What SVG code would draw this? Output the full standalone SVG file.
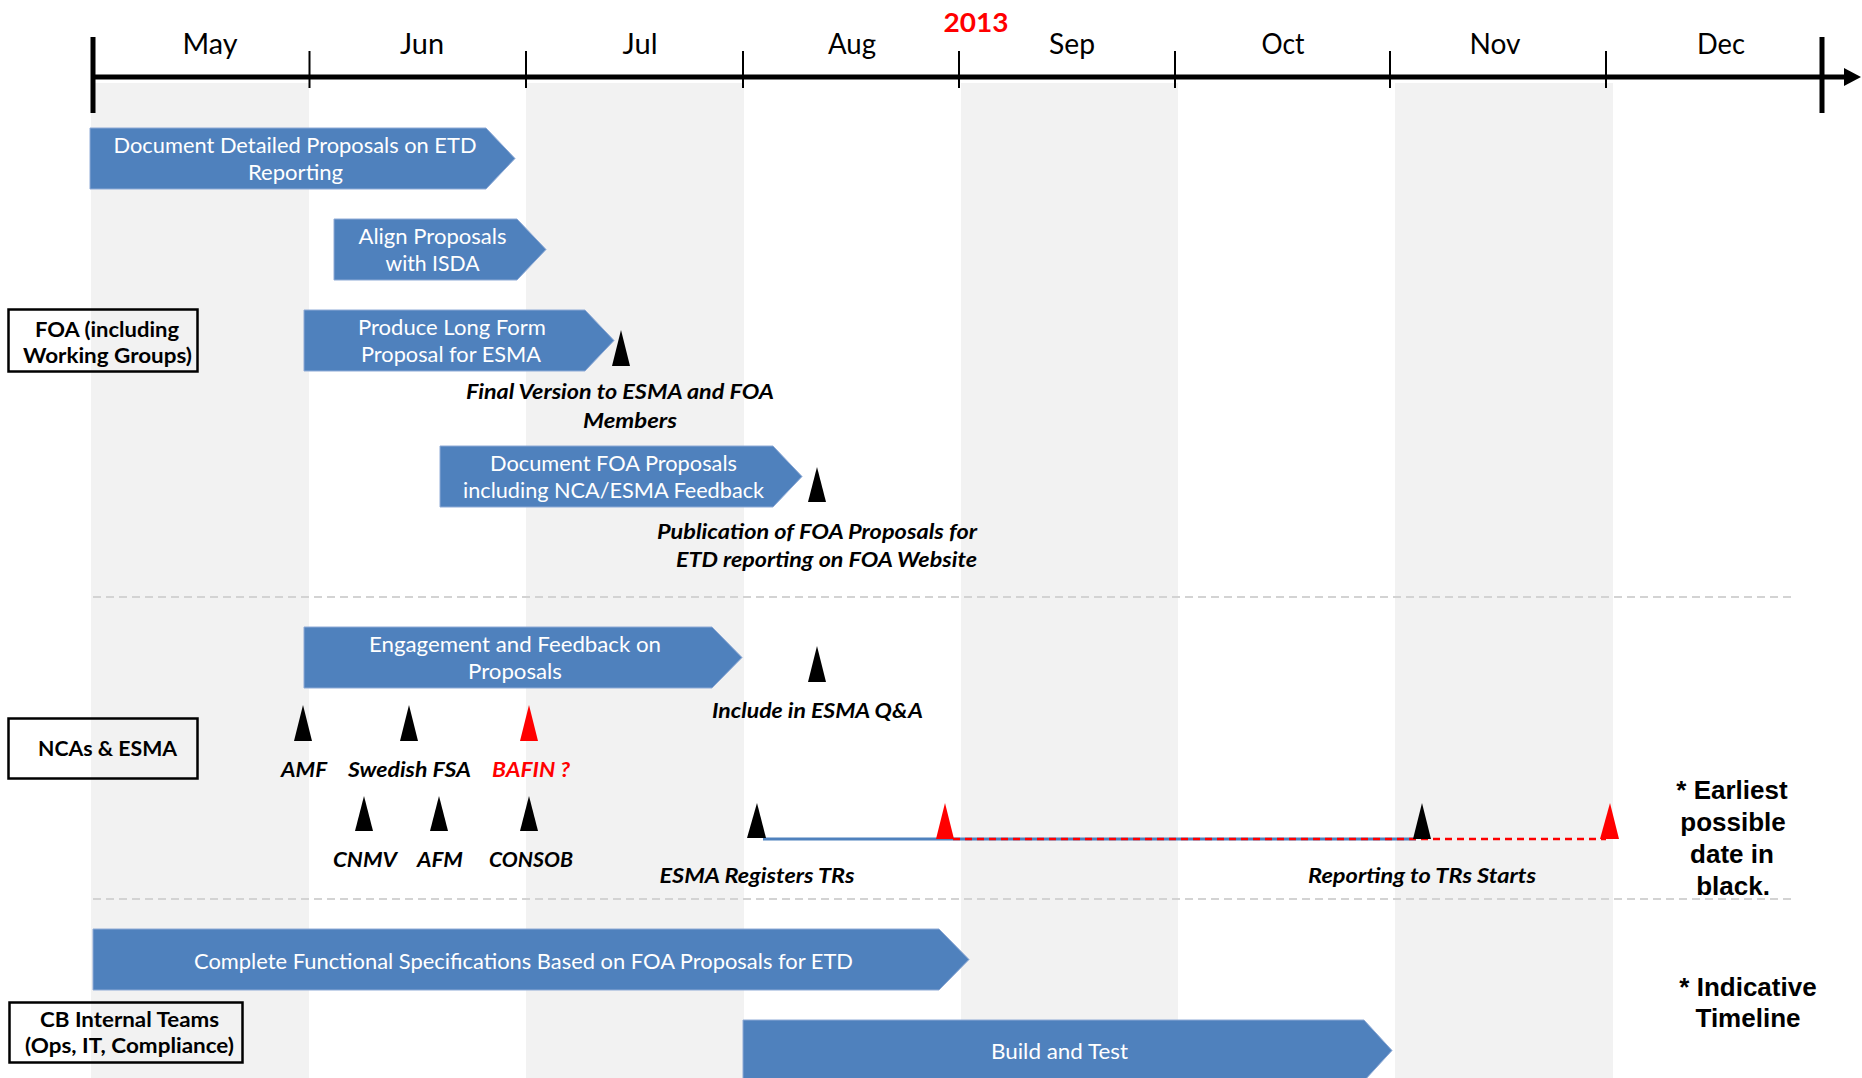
<svg xmlns="http://www.w3.org/2000/svg" width="1862" height="1078" viewBox="0 0 1862 1078">
<style>
.shade{fill:#f2f2f2}
.sep{stroke:#d3d3d3;stroke-width:2;stroke-dasharray:8 5;fill:none}
.axis{stroke:#000;fill:none}
.month{font-family:Lato,"Liberation Sans",sans-serif;font-size:28px;fill:#000;text-anchor:middle}
.bar{fill:#4f81bd;stroke:#8eaad6;stroke-width:1}
.bt{font-family:Lato,"Liberation Sans",sans-serif;font-size:21px;fill:#fff;text-anchor:middle}
.ms{fill:#000}
.msr{fill:#ff0000}
.lbl{font-family:Lato,"Liberation Sans",sans-serif;font-size:21px;font-weight:bold;font-style:italic;fill:#000;text-anchor:middle}
.red{fill:#ff0000}
.lane{fill:none;stroke:#000;stroke-width:2.5}
.lt{font-family:Lato,"Liberation Sans",sans-serif;font-size:21px;font-weight:bold;fill:#000;text-anchor:middle}
.note{font-family:"Liberation Sans",Arial,sans-serif;font-size:26px;font-weight:bold;fill:#000;text-anchor:middle}
</style>

<g id="background">
<rect class="shade" x="91" y="83" width="218" height="995"/>
<rect class="shade" x="526" y="83" width="218" height="995"/>
<rect class="shade" x="961" y="83" width="217" height="995"/>
<rect class="shade" x="1395" y="83" width="218" height="995"/>
<line class="sep" x1="93" y1="597" x2="1795" y2="597"/>
<line class="sep" x1="93" y1="899" x2="1795" y2="899"/>
</g>

<g id="timeline">
<line class="axis" x1="93" y1="77" x2="1846" y2="77" stroke-width="5"/>
<polygon points="1844,68 1861,77 1844,86" fill="#000"/>
<line class="axis" x1="93" y1="37" x2="93" y2="113" stroke-width="5"/>
<line class="axis" x1="1822" y1="37" x2="1822" y2="113" stroke-width="5"/>
<g stroke="#000" stroke-width="2">
<line x1="309.5" y1="51" x2="309.5" y2="88"/>
<line x1="526" y1="51" x2="526" y2="88"/>
<line x1="743" y1="51" x2="743" y2="88"/>
<line x1="959" y1="51" x2="959" y2="88"/>
<line x1="1175" y1="51" x2="1175" y2="88"/>
<line x1="1390" y1="51" x2="1390" y2="88"/>
<line x1="1606" y1="51" x2="1606" y2="88"/>
</g>
<text class="month" x="210" y="54" textLength="55" lengthAdjust="spacingAndGlyphs">May</text>
<text class="month" x="422" y="54" textLength="44" lengthAdjust="spacingAndGlyphs">Jun</text>
<text class="month" x="640" y="54" textLength="35" lengthAdjust="spacingAndGlyphs">Jul</text>
<text class="month" x="852" y="54" textLength="48" lengthAdjust="spacingAndGlyphs">Aug</text>
<text class="month" x="1072" y="54" textLength="46" lengthAdjust="spacingAndGlyphs">Sep</text>
<text class="month" x="1283" y="54" textLength="43" lengthAdjust="spacingAndGlyphs">Oct</text>
<text class="month" x="1495" y="54" textLength="51" lengthAdjust="spacingAndGlyphs">Nov</text>
<text class="month" x="1721" y="54" textLength="48" lengthAdjust="spacingAndGlyphs">Dec</text>
<text x="976" y="32" font-family="Lato,'Liberation Sans',sans-serif" font-size="27" font-weight="bold" fill="#ff0000" text-anchor="middle" textLength="65" lengthAdjust="spacingAndGlyphs">2013</text>
</g>

<g id="lane-foa">
<rect class="lane" x="8.5" y="309.5" width="189" height="62"/>
<text class="lt" x="107" y="337" textLength="144" lengthAdjust="spacingAndGlyphs">FOA (including</text>
<text class="lt" x="107.5" y="363" textLength="169" lengthAdjust="spacingAndGlyphs">Working Groups)</text>
</g>
<g id="lane-nca">
<rect class="lane" x="8.5" y="718.5" width="189" height="60"/>
<text class="lt" x="107.5" y="756" textLength="139" lengthAdjust="spacingAndGlyphs">NCAs &amp; ESMA</text>
</g>
<g id="lane-cb">
<rect class="lane" x="9.5" y="1002.5" width="233" height="60"/>
<text class="lt" x="129.5" y="1027" textLength="179" lengthAdjust="spacingAndGlyphs">CB Internal Teams</text>
<text class="lt" x="129.5" y="1053" textLength="209" lengthAdjust="spacingAndGlyphs">(Ops, IT, Compliance)</text>
</g>

<g id="connectors">
<line x1="763" y1="839" x2="1416" y2="839" stroke="#4f81bd" stroke-width="3"/>
<line x1="953" y1="839" x2="1606" y2="839" stroke="#ff0000" stroke-width="2.5" stroke-dasharray="7 5"/>
</g>

<g id="task-document-detailed">
<polygon class="bar" points="90,128 486,128 515,158.5 486,189 90,189"/>
<text class="bt" x="295" y="153" textLength="363" lengthAdjust="spacingAndGlyphs">Document Detailed Proposals on ETD</text>
<text class="bt" x="295.5" y="180" textLength="95" lengthAdjust="spacingAndGlyphs">Reporting</text>
</g>
<g id="task-align">
<polygon class="bar" points="334,219 517,219 546,249.5 517,280 334,280"/>
<text class="bt" x="432.5" y="244" textLength="148" lengthAdjust="spacingAndGlyphs">Align Proposals</text>
<text class="bt" x="432.5" y="271" textLength="94" lengthAdjust="spacingAndGlyphs">with ISDA</text>
</g>
<g id="task-produce">
<polygon class="bar" points="304,310 585,310 614,340.5 585,371 304,371"/>
<text class="bt" x="452" y="335" textLength="188" lengthAdjust="spacingAndGlyphs">Produce Long Form</text>
<text class="bt" x="451" y="362" textLength="180" lengthAdjust="spacingAndGlyphs">Proposal for ESMA</text>
</g>
<g id="ms-final-version">
<polygon class="ms" points="612,366 630,366 621,330"/>
<text class="lbl" x="620" y="399" textLength="308" lengthAdjust="spacingAndGlyphs">Final Version to ESMA and FOA</text>
<text class="lbl" x="630" y="428" textLength="94" lengthAdjust="spacingAndGlyphs">Members</text>
</g>
<g id="task-document-foa">
<polygon class="bar" points="440,446 773,446 802,476.5 773,507 440,507"/>
<text class="bt" x="613.5" y="471" textLength="247" lengthAdjust="spacingAndGlyphs">Document FOA Proposals</text>
<text class="bt" x="613.5" y="498" textLength="301" lengthAdjust="spacingAndGlyphs">including NCA/ESMA Feedback</text>
</g>
<g id="ms-publication">
<polygon class="ms" points="808,502 826,502 817,467"/>
<text class="lbl" x="817" y="539" textLength="320" lengthAdjust="spacingAndGlyphs">Publication of FOA Proposals for</text>
<text class="lbl" x="826.5" y="567" textLength="301" lengthAdjust="spacingAndGlyphs">ETD reporting on FOA Website</text>
</g>

<g id="task-engagement">
<polygon class="bar" points="304,627 712,627 742,657.5 712,688 304,688"/>
<text class="bt" x="515" y="652" textLength="292" lengthAdjust="spacingAndGlyphs">Engagement and Feedback on</text>
<text class="bt" x="515" y="679" textLength="94" lengthAdjust="spacingAndGlyphs">Proposals</text>
</g>
<g id="ms-qa">
<polygon class="ms" points="808,682 826,682 817,646"/>
<text class="lbl" x="817.5" y="718" textLength="211" lengthAdjust="spacingAndGlyphs">Include in ESMA Q&amp;A</text>
</g>
<g id="ms-amf">
<polygon class="ms" points="294,741 312,741 303,705"/>
<text class="lbl" x="304" y="777" textLength="46" lengthAdjust="spacingAndGlyphs">AMF</text>
</g>
<g id="ms-swedish">
<polygon class="ms" points="400,741 418,741 409,705"/>
<text class="lbl" x="409.5" y="777" textLength="123" lengthAdjust="spacingAndGlyphs">Swedish FSA</text>
</g>
<g id="ms-bafin">
<polygon class="msr" points="520,741 538,741 529,705"/>
<text class="lbl red" x="531" y="777" textLength="78" lengthAdjust="spacingAndGlyphs">BAFIN ?</text>
</g>
<g id="ms-cnmv">
<polygon class="ms" points="355,831 373,831 364,796"/>
<text class="lbl" x="365" y="867" textLength="64" lengthAdjust="spacingAndGlyphs">CNMV</text>
</g>
<g id="ms-afm">
<polygon class="ms" points="430,831 448,831 439,796"/>
<text class="lbl" x="440" y="867" textLength="46" lengthAdjust="spacingAndGlyphs">AFM</text>
</g>
<g id="ms-consob">
<polygon class="ms" points="520,831 538,831 529,796"/>
<text class="lbl" x="531" y="867" textLength="84" lengthAdjust="spacingAndGlyphs">CONSOB</text>
</g>
<g id="ms-esma-registers">
<polygon class="ms" points="747,838 766,838 757,803"/>
<text class="lbl" x="757" y="883" textLength="195" lengthAdjust="spacingAndGlyphs">ESMA Registers TRs</text>
</g>
<g id="ms-esma-registers-late">
<polygon class="msr" points="936,839 954,839 945,803"/>
</g>
<g id="ms-reporting">
<polygon class="ms" points="1413,839 1431,839 1422,803"/>
<text class="lbl" x="1422" y="883" textLength="228" lengthAdjust="spacingAndGlyphs">Reporting to TRs Starts</text>
</g>
<g id="ms-reporting-late">
<polygon class="msr" points="1600,839 1619,839 1610,803"/>
</g>

<g id="task-functional-spec">
<polygon class="bar" points="93,929 939,929 969,959.5 939,990 93,990"/>
<text class="bt" x="523.5" y="969" textLength="659" lengthAdjust="spacingAndGlyphs">Complete Functional Specifications Based on FOA Proposals for ETD</text>
</g>
<g id="task-build">
<polygon class="bar" points="743,1020 1364,1020 1392,1050.5 1364,1081 743,1081"/>
<text class="bt" x="1059.5" y="1059" textLength="137" lengthAdjust="spacingAndGlyphs">Build and Test</text>
</g>

<g id="note-earliest">
<text class="note" x="1732" y="799">* Earliest</text>
<text class="note" x="1733" y="831">possible</text>
<text class="note" x="1732" y="863">date in</text>
<text class="note" x="1733" y="895">black.</text>
</g>
<g id="note-indicative">
<text class="note" x="1748" y="996">* Indicative</text>
<text class="note" x="1748" y="1027">Timeline</text>
</g>
</svg>
